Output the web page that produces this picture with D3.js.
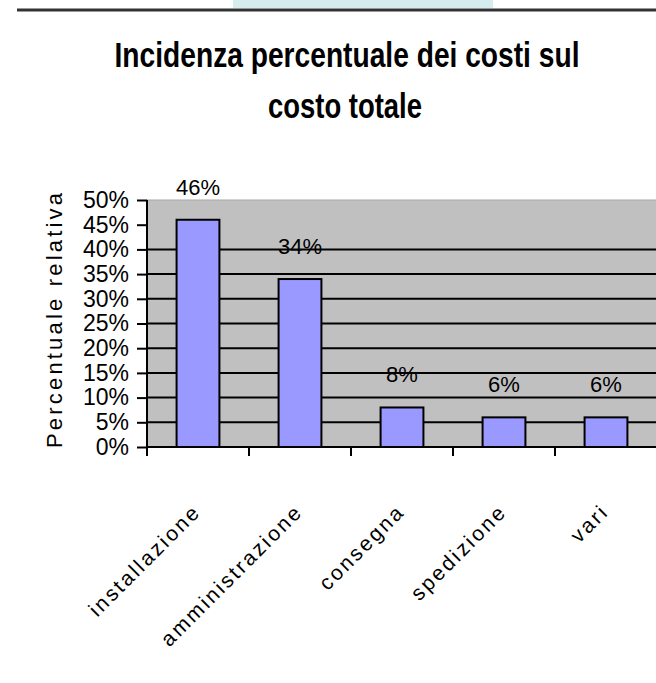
<!DOCTYPE html>
<html>
<head>
<meta charset="utf-8">
<script src="https://cdn.jsdelivr.net/npm/d3@7"></script>
<style>
  body { margin: 0; background: #fff; }
  svg text { font-family: "Liberation Sans", Arial, sans-serif; fill: #000; }
</style>
</head>
<body>
<div id="chart"></div>
<script>
// data
const categories = ['installazione', 'amministrazione', 'consegna', 'spedizione', 'vari'];
const values = [46, 34, 8, 6, 6];
const valueLabels = ['46%', '34%', '8%', '6%', '6%'];
const yTicks = [0, 5, 10, 15, 20, 25, 30, 35, 40, 45, 50];
const gridValues = [5, 10, 15, 20, 25, 30, 35, 40];
const titleLines = ['Incidenza percentuale dei costi sul', 'costo totale'];
const yTitle = 'Percentuale relativa';

const W = 656, H = 683;
const plot = { left: 147, right: 657, top: 200, bottom: 447 };

const svg = d3.select('#chart').append('svg')
  .attr('width', W)
  .attr('height', H);

// slide header remnants
svg.append('rect')
  .attr('x', 233).attr('y', 0)
  .attr('width', 260).attr('height', 8)
  .attr('fill', '#d6edf0');
svg.append('line')
  .attr('x1', 17).attr('x2', W)
  .attr('y1', 10).attr('y2', 10)
  .attr('stroke', '#333').attr('stroke-width', 3);

// title, squeezed horizontally like the original
const titlePos = [{ cx: 347, y: 67, w: 465 }, { cx: 345, y: 118, w: 154 }];
titleLines.forEach((line, i) => {
  const g = svg.append('g');
  const t = g.append('text')
    .attr('font-size', 35)
    .attr('font-weight', 'bold')
    .attr('text-anchor', 'middle')
    .text(line);
  const sx = titlePos[i].w / t.node().getComputedTextLength();
  g.attr('transform', `translate(${titlePos[i].cx},${titlePos[i].y}) scale(${sx},1)`);
});

const x = d3.scaleBand()
  .domain(categories)
  .range([plot.left, plot.right])
  .paddingInner(0.58)
  .paddingOuter(0.29);

const y = d3.scaleLinear()
  .domain([0, 50])
  .range([plot.bottom, plot.top]);

// plot area
svg.append('rect')
  .attr('x', plot.left).attr('y', plot.top)
  .attr('width', plot.right - plot.left)
  .attr('height', plot.bottom - plot.top)
  .attr('fill', '#c0c0c0')
  .attr('stroke', '#a8a8a8')
  .attr('stroke-width', 1);

// gridlines
svg.append('g')
  .selectAll('line')
  .data(gridValues)
  .join('line')
  .attr('x1', plot.left).attr('x2', plot.right)
  .attr('y1', d => y(d)).attr('y2', d => y(d))
  .attr('stroke', '#000')
  .attr('stroke-width', 2);

// bars
svg.append('g')
  .selectAll('rect')
  .data(values)
  .join('rect')
  .attr('x', (d, i) => x(categories[i]))
  .attr('y', d => y(d))
  .attr('width', x.bandwidth())
  .attr('height', d => y(0) - y(d))
  .attr('fill', '#9999ff')
  .attr('stroke', '#000')
  .attr('stroke-width', 2);

// value labels
svg.append('g')
  .selectAll('text')
  .data(values)
  .join('text')
  .attr('x', (d, i) => x(categories[i]) + x.bandwidth() / 2)
  .attr('y', d => y(d) - 25)
  .attr('text-anchor', 'middle')
  .attr('font-size', 22)
  .text((d, i) => valueLabels[i]);

// y axis
const yAxis = svg.append('g')
  .attr('transform', `translate(${plot.left},0)`)
  .call(d3.axisLeft(y).tickValues(yTicks).tickSize(10).tickPadding(8).tickFormat(d => d + '%'));
yAxis.selectAll('path, line').attr('stroke', '#000').attr('stroke-width', 2);
yAxis.select('.domain').attr('d', `M0,${plot.top}V${plot.bottom}`);
yAxis.selectAll('text')
  .attr('font-size', 23)
  .attr('font-family', '"Liberation Sans", Arial, sans-serif');

// x axis: ticks at band edges
const xEdges = categories.map(c => x(c) - x.step() * x.paddingInner() / 2)
  .concat([plot.right]);
const xAxis = svg.append('g');
xAxis.append('line')
  .attr('x1', plot.left).attr('x2', plot.right)
  .attr('y1', plot.bottom).attr('y2', plot.bottom)
  .attr('stroke', '#000').attr('stroke-width', 2);
xAxis.selectAll('line.tick')
  .data(xEdges)
  .join('line')
  .attr('class', 'tick')
  .attr('x1', d => d).attr('x2', d => d)
  .attr('y1', plot.bottom).attr('y2', plot.bottom + 9)
  .attr('stroke', '#000').attr('stroke-width', 2);

xAxis.selectAll('text')
  .data(categories)
  .join('text')
  .attr('transform', d => `translate(${x(d) + x.bandwidth() / 2 + 4},${plot.bottom + 66}) rotate(-45)`)
  .attr('text-anchor', 'end')
  .attr('font-size', 21)
  .attr('letter-spacing', 2.5)
  .text(d => d);

// y title
svg.append('text')
  .attr('transform', `translate(62,448) rotate(-90)`)
  .attr('font-size', 22)
  .attr('textLength', 255)
  .attr('lengthAdjust', 'spacing')
  .text(yTitle);
</script>
</body>
</html>
